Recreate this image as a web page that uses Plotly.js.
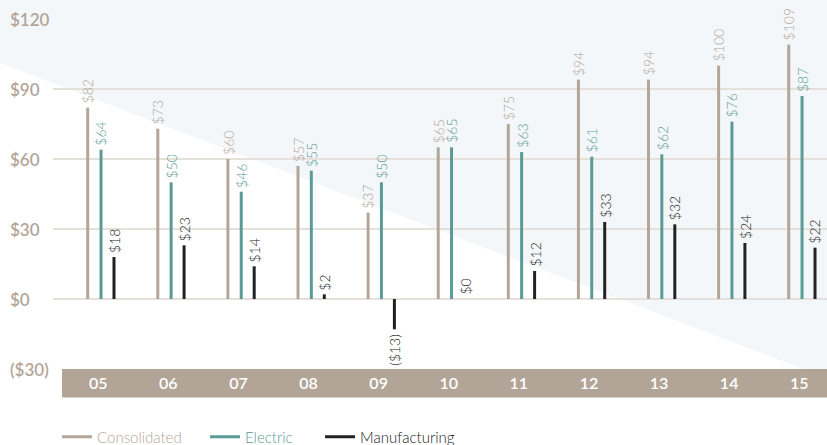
<!DOCTYPE html>
<html>
<head>
<meta charset="utf-8">
<script src="https://cdn.plot.ly/plotly-3.0.1.min.js"></script>
<style>
  html, body { margin: 0; padding: 0; background: #ffffff; }
  #chart { width: 827px; height: 445px; }
</style>
</head>
<body>
<div id="chart"></div>
<script>
// Fiscal years and segment results ($ millions)
const years = ['05', '06', '07', '08', '09', '10', '11', '12', '13', '14', '15'];
const consolidated = [82, 73, 60, 57, 37, 65, 75, 94, 94, 100, 109];
const electric = [64, 50, 46, 55, 50, 65, 63, 61, 62, 76, 87];
const manufacturing = [18, 23, 14, 2, -13, 0, 12, 33, 32, 24, 22];
const yTicks = [-30, 0, 30, 60, 90, 120];

const TAUPE = '#b3a598';
const TEAL = '#5a9b98';
const INK = '#222222';
const FONT = 'Lato, "Open Sans", sans-serif';

// each series is a set of thin vertical stems, offset within the year group;
// each gets its own legend so the entries can be spaced freely
const series = [
  { name: 'Consolidated', values: consolidated, color: TAUPE, offset: -0.19, legend: 'legend', lx: 0.0052 },
  { name: 'Electric', values: electric, color: TEAL, offset: 0, legend: 'legend2', lx: 0.1964 },
  { name: 'Manufacturing', values: manufacturing, color: INK, offset: 0.185, legend: 'legend3', lx: 0.345 }
];

function money(v) {
  return v < 0 ? '($' + Math.abs(v) + ')' : '$' + v;
}

const traces = series.map(s => {
  const xs = [], ys = [];
  s.values.forEach((v, i) => {
    xs.push(i + s.offset, i + s.offset, null);
    ys.push(0, v, null);
  });
  return {
    type: 'scatter',
    mode: 'lines',
    x: xs,
    y: ys,
    name: s.name,
    legend: s.legend,
    line: { color: s.color, width: 3 },
    hoverinfo: 'skip',
    cliponaxis: false
  };
});

const annotations = [];
// value labels, rotated, sitting past the end of each stem
series.forEach(s => {
  s.values.forEach((v, i) => {
    annotations.push({
      x: i + s.offset,
      y: v,
      xref: 'x',
      yref: 'y',
      text: money(v),
      showarrow: false,
      textangle: -90,
      xanchor: 'center',
      yanchor: v < 0 ? 'top' : 'bottom',
      yshift: v < 0 ? -2 : 2,
      font: { family: FONT, size: 14, weight: 300, color: s.color }
    });
  });
});
// left-aligned value axis labels
yTicks.forEach(t => {
  annotations.push({
    x: -0.0581,
    y: t,
    xref: 'paper',
    yref: 'y',
    text: money(t),
    showarrow: false,
    xanchor: 'left',
    yanchor: 'middle',
    font: { family: FONT, size: 17, weight: 600, color: TAUPE }
  });
});

function legendAt(x, color) {
  return {
    orientation: 'h',
    x: x,
    xanchor: 'left',
    yref: 'container',
    y: 0.018,
    yanchor: 'middle',
    font: { family: FONT, size: 15, weight: 300, color: color },
    bgcolor: 'rgba(0,0,0,0)'
  };
}

const layout = {
  width: 827,
  height: 445,
  margin: { l: 53, r: 0, t: 19, b: 76, pad: 0, autoexpand: false },
  paper_bgcolor: '#ffffff',
  plot_bgcolor: 'rgba(0,0,0,0)',
  showlegend: true,
  legend: legendAt(series[0].lx, series[0].color),
  legend2: legendAt(series[1].lx, series[1].color),
  legend3: legendAt(series[2].lx, series[2].color),
  xaxis: {
    range: [-0.685, 10.356],
    tickmode: 'array',
    tickvals: years.map((y, i) => i - 0.04),
    ticktext: years,
    showgrid: false,
    zeroline: false,
    showline: false,
    ticks: '',
    ticklabelstandoff: 3,
    tickfont: { family: FONT, size: 16, weight: 600, color: '#ffffff' },
    fixedrange: true
  },
  yaxis: {
    range: [-30, 120],
    tickmode: 'array',
    tickvals: yTicks,
    showticklabels: false,
    showgrid: true,
    gridcolor: '#e6e0da',
    gridwidth: 1.5,
    zeroline: false,
    showline: false,
    ticks: '',
    fixedrange: true
  },
  shapes: [
    // pale diagonal wash behind the plot
    {
      type: 'path',
      xref: 'paper',
      yref: 'paper',
      path: 'M -0.0685 1.06 L 1.0 1.06 L 1.0 -0.026 L -0.0685 0.874 Z',
      fillcolor: '#f4f7f9',
      line: { width: 0 },
      layer: 'below'
    },
    // year band along the bottom
    {
      type: 'rect',
      xref: 'x',
      yref: 'paper',
      x0: -0.557,
      x1: 10.356,
      y0: -0.0814,
      y1: 0,
      fillcolor: '#b2a598',
      line: { width: 0 },
      layer: 'below'
    }
  ],
  annotations: annotations
};

Plotly.newPlot('chart', traces, layout, { displayModeBar: false, staticPlot: true });
</script>
</body>
</html>
